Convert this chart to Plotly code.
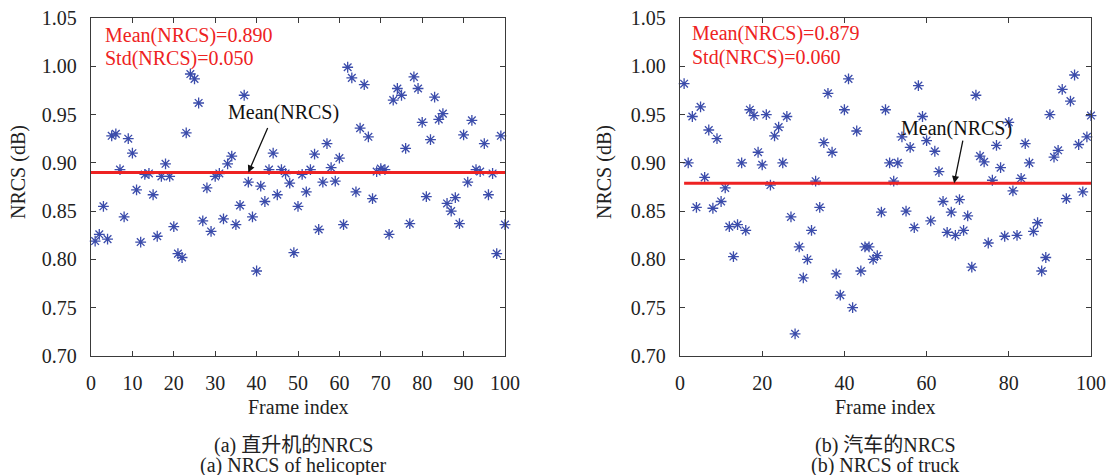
import plotly.graph_objects as go

# ---- data ----
frames = list(range(1, 101))

heli_nrcs = [
    0.819, 0.826, 0.855, 0.821, 0.928, 0.930, 0.893, 0.844, 0.925, 0.910,
    0.872, 0.818, 0.888, 0.889, 0.867, 0.824, 0.886, 0.899, 0.886, 0.834,
    0.806, 0.802, 0.931, 0.992, 0.987, 0.962, 0.840, 0.874, 0.829, 0.886,
    0.889, 0.842, 0.899, 0.907, 0.836, 0.856, 0.970, 0.880, 0.844, 0.788,
    0.876, 0.860, 0.893, 0.910, 0.867, 0.893, 0.889, 0.879, 0.807, 0.855,
    0.888, 0.870, 0.893, 0.909, 0.831, 0.880, 0.920, 0.895, 0.881, 0.905,
    0.836, 0.999, 0.988, 0.870, 0.936, 0.981, 0.927, 0.863, 0.891, 0.894,
    0.893, 0.826, 0.965, 0.977, 0.970, 0.915, 0.837, 0.989, 0.977, 0.942,
    0.865, 0.924, 0.968, 0.945, 0.951, 0.858, 0.850, 0.864, 0.837, 0.929,
    0.880, 0.944, 0.893, 0.891, 0.920, 0.867, 0.889, 0.806, 0.928, 0.836,
]

truck_nrcs = [
    0.982, 0.900, 0.948, 0.854, 0.958, 0.885, 0.934, 0.853, 0.925, 0.860,
    0.874, 0.834, 0.803, 0.836, 0.900, 0.830, 0.955, 0.949, 0.911, 0.898,
    0.950, 0.877, 0.928, 0.937, 0.900, 0.948, 0.844, 0.723, 0.813, 0.781,
    0.800, 0.830, 0.881, 0.854, 0.921, 0.972, 0.911, 0.785, 0.763, 0.955,
    0.987, 0.750, 0.933, 0.788, 0.813, 0.813, 0.800, 0.804, 0.849, 0.955,
    0.900, 0.881, 0.900, 0.927, 0.850, 0.916, 0.833, 0.980, 0.948, 0.923,
    0.840, 0.912, 0.891, 0.860, 0.828, 0.849, 0.825, 0.862, 0.830, 0.845,
    0.792, 0.970, 0.907, 0.901, 0.817, 0.882, 0.918, 0.895, 0.824, 0.942,
    0.871, 0.825, 0.884, 0.920, 0.900, 0.829, 0.838, 0.788, 0.802, 0.950,
    0.906, 0.913, 0.976, 0.863, 0.964, 0.991, 0.919, 0.870, 0.927, 0.949,
]

heli_mean, heli_std = 0.890, 0.050
truck_mean, truck_std = 0.879, 0.060
heli_mean_x = [0, 100]
truck_mean_x = [1, 100]

y_ticks = [0.70, 0.75, 0.80, 0.85, 0.90, 0.95, 1.00, 1.05]
heli_x_ticks = list(range(0, 101, 10))
truck_x_ticks = list(range(0, 101, 20))

caption_a = ["(a) 直升机的NRCS", "(a) NRCS of helicopter"]
caption_b = ["(b) 汽车的NRCS", "(b) NRCS of truck"]

# ---- style ----
W, H = 1110, 475
SERIF = "Liberation Serif, DejaVu Serif, serif"
CAP_FONT = "Liberation Serif, Noto Sans CJK SC, serif"
STAR = "#3b4cab"
RED = "#ee2222"
AX = "#3a3a3a"
FS = 20


def px(x):
    return x / W


def py(y):
    return 1 - y / H


fig = go.Figure()

panels = [
    ("x", "y", heli_nrcs, heli_mean_x, heli_mean),
    ("x2", "y2", truck_nrcs, truck_mean_x, truck_mean),
]
for xa, ya, vals, mx, mv in panels:
    fig.add_trace(go.Scatter(
        x=frames, y=vals, xaxis=xa, yaxis=ya, mode="markers",
        marker=dict(symbol="asterisk-open", size=9, color=STAR,
                    line=dict(color=STAR, width=1.3)),
        cliponaxis=False, showlegend=False, hoverinfo="skip"))
    fig.add_trace(go.Scatter(
        x=mx, y=[mv, mv], xaxis=xa, yaxis=ya, mode="lines",
        line=dict(color=RED, width=3), showlegend=False, hoverinfo="skip"))

axis_common = dict(
    showline=True, linecolor=AX, linewidth=1.3, mirror="ticks",
    ticks="inside", ticklen=5, tickwidth=1.2, tickcolor=AX,
    showgrid=False, zeroline=False, automargin=False,
    tickfont=dict(family=SERIF, size=FS, color="#222"),
)
ydom = [py(356), py(18)]

fig.update_layout(
    width=W, height=H,
    margin=dict(l=0, r=0, t=0, b=0, autoexpand=False),
    showlegend=False,
    paper_bgcolor="white", plot_bgcolor="white",
    xaxis=dict(domain=[px(91), px(505)], range=[0, 100], tickvals=heli_x_ticks,
               anchor="y", ticklabelstandoff=9, **axis_common),
    yaxis=dict(domain=ydom, range=[0.70, 1.05], tickvals=y_ticks, tickformat=".2f",
               anchor="x", ticklabelstandoff=9, **axis_common),
    xaxis2=dict(domain=[px(680), px(1091)], range=[0, 100], tickvals=truck_x_ticks,
                anchor="y2", ticklabelstandoff=9, **axis_common),
    yaxis2=dict(domain=ydom, range=[0.70, 1.05], tickvals=y_ticks, tickformat=".2f",
                anchor="x2", ticklabelstandoff=9, **axis_common),
)

ann = []
# red statistics text
for x0, y0, mv, sv in [(103, 35, heli_mean, heli_std), (690, 33, truck_mean, truck_std)]:
    ann.append(dict(text=f"Mean(NRCS)={mv:.3f}", x=px(x0), y=py(y0), xref="paper", yref="paper",
                    xanchor="left", yanchor="middle", showarrow=False,
                    font=dict(family=SERIF, size=FS, color=RED)))
    ann.append(dict(text=f"Std(NRCS)={sv:.3f}", x=px(x0), y=py(y0 + 24), xref="paper", yref="paper",
                    xanchor="left", yanchor="middle", showarrow=False,
                    font=dict(family=SERIF, size=FS, color=RED)))

# "Mean(NRCS)" callouts with arrows pointing to the mean line
ann.append(dict(text="Mean(NRCS)", x=px(283), y=py(112), xref="paper", yref="paper",
                xanchor="center", yanchor="middle", showarrow=False,
                font=dict(family=SERIF, size=FS, color="#111")))
ann.append(dict(text="", x=38.0, y=heli_mean, xref="x", yref="y", showarrow=True,
                ax=20, ay=-46, arrowhead=2, arrowsize=1.1, arrowwidth=1.3, arrowcolor="#111"))
ann.append(dict(text="Mean(NRCS)", x=px(956), y=py(128), xref="paper", yref="paper",
                xanchor="center", yanchor="middle", showarrow=False,
                font=dict(family=SERIF, size=FS, color="#111")))
ann.append(dict(text="", x=66.7, y=truck_mean, xref="x2", yref="y2", showarrow=True,
                ax=9, ay=-44, arrowhead=2, arrowsize=1.1, arrowwidth=1.3, arrowcolor="#111"))

# axis titles
for cx in (298, 885.5):
    ann.append(dict(text="Frame index", x=px(cx), y=py(407), xref="paper", yref="paper",
                    xanchor="center", yanchor="middle", showarrow=False,
                    font=dict(family=SERIF, size=FS, color="#222")))
for cx in (18, 604):
    ann.append(dict(text="NRCS (dB)", x=px(cx), y=py(172), xref="paper", yref="paper",
                    xanchor="center", yanchor="middle", showarrow=False, textangle=-90,
                    font=dict(family=SERIF, size=FS, color="#222")))

# sub-figure captions
for cx, lines in [(293, caption_a), (885, caption_b)]:
    for k, line in enumerate(lines):
        ann.append(dict(text=line, x=px(cx), y=py(445 + 20 * k), xref="paper", yref="paper",
                        xanchor="center", yanchor="middle", showarrow=False,
                        font=dict(family=CAP_FONT, size=FS, color="#222")))

fig.update_layout(annotations=ann)
fig.write_html("out.html")
